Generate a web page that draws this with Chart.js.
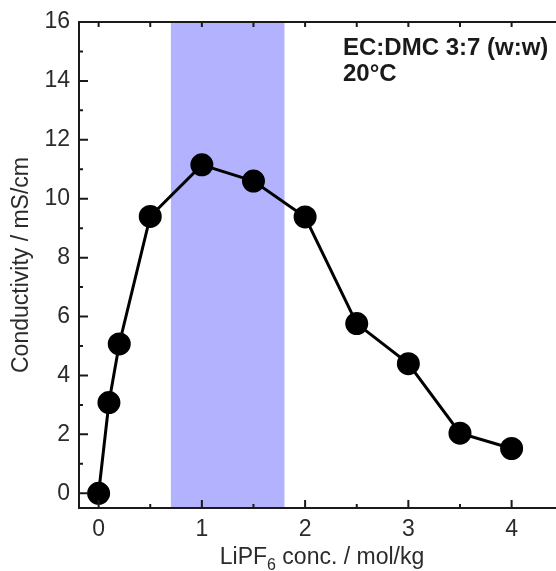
<!DOCTYPE html>
<html>
<head>
<meta charset="utf-8">
<script src="https://cdn.jsdelivr.net/npm/chart.js@4/dist/chart.umd.min.js"></script>
<style>
  html, body { margin: 0; padding: 0; background: #fff; overflow: hidden; }
  canvas { display: block; }
</style>
</head>
<body>
<canvas id="chart" width="556" height="571"></canvas>
<script>
// LiPF6 concentration (mol/kg) and conductivity (mS/cm)
const concentration = [0, 0.1, 0.2, 0.5, 1.0, 1.5, 2.0, 2.5, 3.0, 3.5, 4.0];
const conductivity = [0, 3.08, 5.07, 9.4, 11.15, 10.6, 9.38, 5.76, 4.4, 2.04, 1.52];

const xTicks = [0, 1, 2, 3, 4];
const xMinorTicks = [0.5, 1.5, 2.5, 3.5];
const yTicks = [0, 2, 4, 6, 8, 10, 12, 14, 16];
const yMinorTicks = [1, 3, 5, 7, 9, 11, 13, 15];

// highlighted concentration window
const bandRange = [0.7, 1.8];

const labelLines = ['EC:DMC 3:7 (w:w)', '20°C'];

const ink = '#1a1a1a';
const textColor = '#2b2b2b';
const fontFamily = "'Liberation Sans', Arial, sans-serif";

const framePlugin = {
    id: 'frame',
    beforeDatasetsDraw(chart) {
        const {ctx, chartArea: a, scales: {x}} = chart;
        const x0 = x.getPixelForValue(bandRange[0]);
        const x1 = x.getPixelForValue(bandRange[1]);
        ctx.save();
        ctx.fillStyle = 'rgb(178,178,255)';
        ctx.fillRect(x0, a.top, x1 - x0, a.bottom - a.top);
        ctx.restore();
    },
    afterDraw(chart) {
        const {ctx, chartArea: a, scales: {x, y}} = chart;
        ctx.save();
        ctx.strokeStyle = ink;
        ctx.lineWidth = 2;
        // left, top, bottom spines (right one falls outside the picture)
        ctx.beginPath();
        ctx.moveTo(a.right + 2, a.top);
        ctx.lineTo(a.left, a.top);
        ctx.lineTo(a.left, a.bottom);
        ctx.lineTo(a.right + 2, a.bottom);
        ctx.stroke();

        // inward ticks
        ctx.beginPath();
        xTicks.forEach(v => {
            const px = x.getPixelForValue(v);
            ctx.moveTo(px, a.bottom); ctx.lineTo(px, a.bottom - 8);
            ctx.moveTo(px, a.top); ctx.lineTo(px, a.top + 5);
        });
        xMinorTicks.forEach(v => {
            const px = x.getPixelForValue(v);
            ctx.moveTo(px, a.bottom); ctx.lineTo(px, a.bottom - 4);
            ctx.moveTo(px, a.top); ctx.lineTo(px, a.top + 5);
        });
        yTicks.forEach(v => {
            const py = y.getPixelForValue(v);
            ctx.moveTo(a.left, py); ctx.lineTo(a.left + 9, py);
        });
        yMinorTicks.forEach(v => {
            const py = y.getPixelForValue(v);
            ctx.moveTo(a.left, py); ctx.lineTo(a.left + 4, py);
        });
        ctx.stroke();

        // annotation
        ctx.fillStyle = ink;
        ctx.font = 'bold 24px ' + fontFamily;
        ctx.textAlign = 'left';
        ctx.textBaseline = 'alphabetic';
        ctx.fillText(labelLines[0], 343, 55);
        ctx.fillText(labelLines[1], 343, 81);

        // x axis title with subscript
        ctx.fillStyle = textColor;
        const parts = [['LiPF', 23, 0], ['6', 16, 6], [' conc. / mol/kg', 23, 0]];
        let total = 0;
        parts.forEach(p => { ctx.font = p[1] + 'px ' + fontFamily; total += ctx.measureText(p[0]).width; });
        let cx = 322 - total / 2;
        parts.forEach(p => {
            ctx.font = p[1] + 'px ' + fontFamily;
            ctx.fillText(p[0], cx, 564 + p[2]);
            cx += ctx.measureText(p[0]).width;
        });
        ctx.restore();
    }
};

new Chart(document.getElementById('chart'), {
    type: 'line',
    data: {
        datasets: [{
            data: concentration.map((c, i) => ({x: c, y: conductivity[i]})),
            borderColor: '#000',
            backgroundColor: '#000',
            borderWidth: 3,
            pointRadius: 10,
            pointHoverRadius: 10,
            pointBackgroundColor: '#000',
            pointBorderColor: '#000',
            tension: 0
        }]
    },
    options: {
        responsive: false,
        animation: false,
        layout: { autoPadding: false, padding: { top: 22, left: 0, right: 0, bottom: 0 } },
        plugins: {
            legend: { display: false },
            tooltip: { enabled: false }
        },
        scales: {
            x: {
                type: 'linear',
                min: -0.19,
                max: 4.43,
                grid: { display: false },
                border: { display: false },
                afterBuildTicks: s => { s.ticks = xTicks.map(v => ({value: v})); },
                afterFit: s => { s.height = 63; s.paddingLeft = 0; s.paddingRight = 0; },
                ticks: { color: textColor, padding: 0, font: { size: 23, family: fontFamily } }
            },
            y: {
                type: 'linear',
                min: -0.5,
                max: 16,
                grid: { display: false },
                border: { display: false },
                afterBuildTicks: s => { s.ticks = yTicks.map(v => ({value: v})); },
                afterFit: s => { s.width = 79; s.paddingTop = 0; s.paddingBottom = 0; },
                ticks: { color: textColor, padding: 1, font: { size: 23, family: fontFamily } },
                title: {
                    display: true,
                    text: 'Conductivity / mS/cm',
                    color: textColor,
                    padding: { top: 8, bottom: 0 },
                    font: { size: 23, family: fontFamily }
                }
            }
        }
    },
    plugins: [framePlugin]
});
</script>
</body>
</html>
